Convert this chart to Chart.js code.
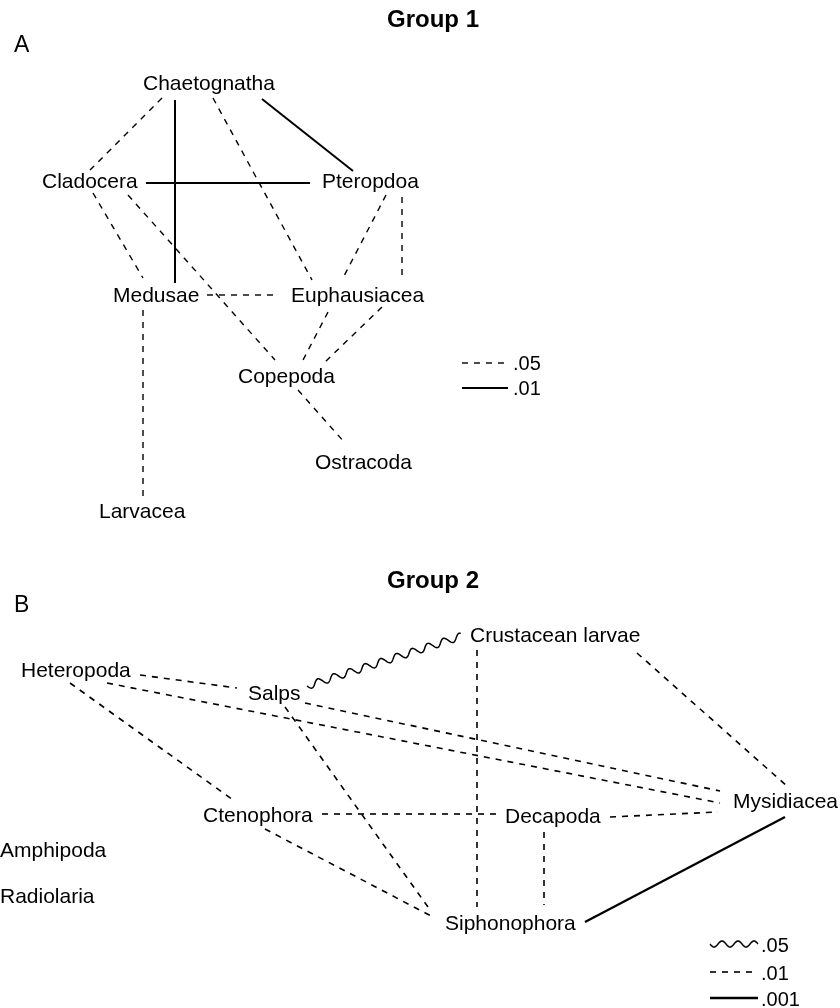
<!DOCTYPE html>
<html>
<head>
<meta charset="utf-8">
<script src="https://cdn.jsdelivr.net/npm/chart.js@4.4.1/dist/chart.umd.min.js"></script>
<style>
    html, body { margin: 0; padding: 0; background: #fff; }
    #wrap { width: 840px; height: 1008px; position: relative; }
</style>
</head>
<body>
<div id="wrap"><canvas id="net"></canvas></div>
<script>
// ---- Group 1 (panel A): taxa, label left edge and baseline (plot units) ----
const taxaA  = ['Chaetognatha', 'Cladocera', 'Pteropdoa', 'Medusae', 'Euphausiacea', 'Copepoda', 'Ostracoda', 'Larvacea'];
const taxaAX = [143, 42, 322, 113, 291, 238, 315, 99];
const taxaAY = [90, 188, 188, 302, 302, 383, 469, 518];

// links of group 1: start, end, significance level
const linkAStart = [[162, 98], [175, 100], [213, 98], [262, 99], [146, 183], [93, 193], [128, 195],
                    [386, 195], [328, 312], [402, 197], [382, 307], [207, 295], [143, 310], [298, 390]];
const linkAEnd   = [[90, 170], [175, 283], [312, 280], [353, 171], [310, 183], [143, 278], [275, 360],
                    [343, 278], [302, 362], [402, 280], [325, 362], [277, 295], [143, 498], [345, 443]];
const linkALevel = ['.05', '.01', '.05', '.01', '.01', '.05', '.05',
                    '.05', '.05', '.05', '.05', '.05', '.05', '.05'];

// ---- Group 2 (panel B) ----
const taxaB  = ['Crustacean larvae', 'Heteropoda', 'Salps', 'Mysidiacea', 'Ctenophora', 'Decapoda', 'Amphipoda', 'Radiolaria', 'Siphonophora'];
const taxaBX = [470, 21, 248, 733, 203, 505, 0, 0, 445];
const taxaBY = [642, 677, 700, 808, 822, 823, 857, 903, 930];

const linkBStart = [[307, 686], [140, 675], [107, 683], [305, 703], [70, 683], [285, 707], [477, 650],
                    [637, 653], [322, 814], [265, 829], [544, 832], [610, 817], [585, 922]];
const linkBEnd   = [[462, 636], [237, 688], [720, 803], [720, 791], [233, 800], [428, 907], [477, 907],
                    [788, 787], [498, 814], [433, 917], [544, 905], [718, 812], [785, 817]];
const linkBLevel = ['.05', '.01', '.01', '.01', '.01', '.01', '.01',
                    '.01', '.01', '.01', '.01', '.01', '.001'];

// legend entries
const legendALevels = ['.05', '.01'];
const legendBLevels = ['.05', '.01', '.001'];

// line style per group and level
const styles = {
    A: { '.05': { dash: [6, 6], width: 1.4 }, '.01': { dash: [], width: 2 } },
    B: { '.05': { wave: true, width: 1.5 }, '.01': { dash: [6, 6], width: 1.6 }, '.001': { dash: [], width: 2.3 } }
};

const FONT = '"Liberation Sans", Arial, Helvetica, sans-serif';

// build one line dataset per (non wavy) link
const datasets = [];
const addLinks = (group, starts, ends, levels) => {
    for (let i = 0; i < starts.length; i++) {
        const st = styles[group][levels[i]];
        if (st.wave) continue; // drawn by plugin
        datasets.push({
            data: [{ x: starts[i][0], y: starts[i][1] }, { x: ends[i][0], y: ends[i][1] }],
            showLine: true,
            borderColor: '#000',
            borderWidth: st.width,
            borderDash: st.dash,
            borderCapStyle: 'butt',
            pointRadius: 0,
            tension: 0,
            fill: false
        });
    }
};
addLinks('A', linkAStart, linkAEnd, linkALevel);
addLinks('B', linkBStart, linkBEnd, linkBLevel);

function drawWave(ctx, x1, y1, x2, y2, wl, amp) {
    const len = Math.hypot(x2 - x1, y2 - y1);
    const ux = (x2 - x1) / len, uy = (y2 - y1) / len;
    const nx = -uy, ny = ux;
    ctx.beginPath();
    for (let s = 0; s <= len; s += 0.5) {
        const o = amp * Math.sin(2 * Math.PI * s / wl);
        const px = x1 + ux * s + nx * o, py = y1 + uy * s + ny * o;
        if (s === 0) ctx.moveTo(px, py); else ctx.lineTo(px, py);
    }
    ctx.stroke();
}

function drawSample(ctx, st, x1, x2, y) {
    ctx.save();
    ctx.strokeStyle = '#000';
    ctx.lineWidth = st.width;
    if (st.wave) {
        drawWave(ctx, x1, y, x2, y, 16, 3);
    } else {
        ctx.setLineDash(st.dash);
        ctx.beginPath();
        ctx.moveTo(x1, y);
        ctx.lineTo(x2, y);
        ctx.stroke();
    }
    ctx.restore();
}

const netPlugin = {
    id: 'netLabels',
    afterDatasetsDraw(chart) {
        const ctx = chart.ctx;
        const sx = chart.scales.x, sy = chart.scales.y;
        const X = v => sx.getPixelForValue(v), Y = v => sy.getPixelForValue(v);

        // wavy links
        ctx.save();
        ctx.strokeStyle = '#000';
        [['A', linkAStart, linkAEnd, linkALevel], ['B', linkBStart, linkBEnd, linkBLevel]].forEach(([g, s, e, l]) => {
            for (let i = 0; i < s.length; i++) {
                const st = styles[g][l[i]];
                if (!st.wave) continue;
                ctx.lineWidth = st.width;
                drawWave(ctx, X(s[i][0]), Y(s[i][1]), X(e[i][0]), Y(e[i][1]), 16.5, 3.5);
            }
        });
        ctx.restore();

        ctx.save();
        ctx.fillStyle = '#000';
        ctx.textBaseline = 'alphabetic';

        // panel titles and letters
        ctx.font = 'bold 24px ' + FONT;
        ctx.textAlign = 'center';
        ctx.fillText('Group 1', X(433), Y(27));
        ctx.fillText('Group 2', X(433), Y(588));
        ctx.textAlign = 'left';
        ctx.font = '23px ' + FONT;
        ctx.fillText('A', X(14), Y(52));
        ctx.fillText('B', X(14), Y(612));

        // taxa labels
        ctx.font = '21px ' + FONT;
        taxaA.forEach((t, i) => ctx.fillText(t, X(taxaAX[i]), Y(taxaAY[i])));
        taxaB.forEach((t, i) => ctx.fillText(t, X(taxaBX[i]), Y(taxaBY[i])));

        // legends
        ctx.font = '20px ' + FONT;
        const legA = [363, 388];
        legendALevels.forEach((lv, i) => {
            drawSample(ctx, styles.A[lv], X(462), X(508), Y(legA[i]));
            ctx.fillText(lv, X(513), Y(legA[i] + 7));
        });
        const legB = [944, 972, 998];
        legendBLevels.forEach((lv, i) => {
            drawSample(ctx, styles.B[lv], X(710), X(758), Y(legB[i]));
            ctx.fillText(lv, X(761), Y(legB[i] + 8));
        });
        ctx.restore();
    }
};

new Chart(document.getElementById('net'), {
    type: 'scatter',
    data: { datasets: datasets },
    options: {
        responsive: true,
        maintainAspectRatio: false,
        animation: false,
        events: [],
        layout: { padding: 0 },
        plugins: { legend: { display: false }, tooltip: { enabled: false }, title: { display: false } },
        scales: {
            x: { type: 'linear', min: 0, max: 840, display: false },
            y: { type: 'linear', min: 0, max: 1008, reverse: true, display: false }
        }
    },
    plugins: [netPlugin]
});
</script>
</body>
</html>
